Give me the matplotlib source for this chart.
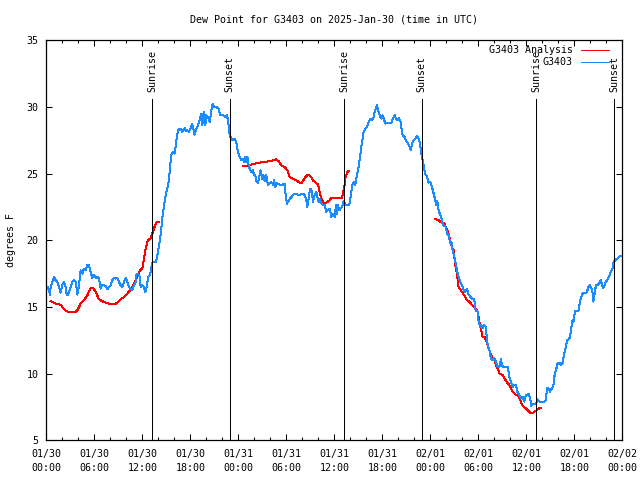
import numpy as np
import matplotlib
matplotlib.use("Agg")
import matplotlib.pyplot as plt

# ---------------- data (hours since 2025-01-30 00:00 UTC) ----------------
obs_hours = [0.21, 0.46, 0.54, 0.75, 0.96, 1.17, 1.38, 1.59, 1.79, 2.0, 2.21, 2.42, 2.54, 2.71, 2.96,
             3.25, 3.46, 3.67, 3.79, 3.88, 4.09, 4.29, 4.5, 4.71, 4.92, 5.13, 5.33, 5.54, 5.75, 5.96,
             6.17, 6.38, 6.58, 6.79, 7.0, 7.21, 7.42, 7.63, 7.83, 8.04, 8.25, 8.46, 8.67, 8.88, 9.09,
             9.29, 9.5, 9.71, 9.92, 10.13, 10.33, 10.54, 10.75, 10.96, 11.17, 11.29, 11.5, 11.67, 11.79,
             12.0, 12.21, 12.34, 12.46, 12.63, 12.75, 12.96, 13.13, 13.29, 13.46, 13.71, 13.88, 14.09,
             14.29, 14.5, 14.71, 14.92, 15.13, 15.33, 15.46, 15.67, 15.88, 16.04, 16.21, 16.38, 16.58,
             16.79, 16.96, 17.13, 17.29, 17.46, 17.63, 17.83, 18.04, 18.21,
             18.54, 18.75, 18.96, 19.17, 19.38, 19.5, 19.67, 19.88, 20.0, 20.21, 20.42, 20.63, 20.79,
             20.96, 21.25, 21.54, 21.71, 22.08, 22.38, 22.58, 22.71, 22.83, 22.92, 23.13, 23.33, 23.54,
             23.75, 23.96, 24.17, 24.38, 24.58, 24.71, 24.88, 25.0, 25.13, 25.29, 25.42, 25.63, 25.83,
             25.96, 26.13, 26.29, 26.46, 26.67, 26.79, 26.96, 27.13, 27.29, 27.5, 27.71, 27.92, 28.13,
             28.33, 28.46, 28.63, 28.79, 28.96, 29.17, 29.38, 29.58, 29.79, 29.92, 30.08, 30.29, 30.46,
             30.63, 30.83, 31.04, 31.25, 31.46, 31.67, 31.88, 32.08, 32.29, 32.5, 32.63, 32.79, 32.92,
             33.04, 33.21, 33.33, 33.54, 33.75, 33.88, 34.04, 34.17, 34.38, 34.58, 34.79, 35.0, 35.21,
             35.42, 35.63, 35.83,
             36.04, 36.21, 36.33, 36.46, 36.63, 36.75, 36.96, 37.17, 37.38, 37.58, 37.88, 38.0, 38.13,
             38.29, 38.46, 38.63, 38.71, 38.88, 39.04, 39.25, 39.38, 39.54, 39.67, 39.88, 40.08, 40.29,
             40.5, 40.71, 40.92, 41.04, 41.21, 41.33, 41.46, 41.63, 41.75, 41.88, 42.04, 42.17, 42.38,
             42.58, 42.79, 43.13, 43.33, 43.54, 43.71, 43.88, 44.04, 44.25, 44.38, 44.54, 44.79, 44.96,
             45.21, 45.42, 45.58, 45.71, 45.92, 46.13, 46.33, 46.54, 46.71, 46.88, 47.04, 47.21, 47.38,
             47.58, 47.79, 48.0, 48.21, 48.42, 48.63, 48.75, 48.88, 49.04, 49.25, 49.46, 49.58, 49.79,
             49.96, 50.08, 50.29, 50.5, 50.63, 50.79, 50.92, 51.04, 51.21, 51.38, 51.54, 51.75, 51.96,
             52.17, 52.38, 52.58, 52.79, 53.0, 53.21, 53.42, 53.54, 53.63,
             53.71, 53.92, 54.04, 54.21, 54.38, 54.54, 54.75, 54.96, 55.08, 55.21, 55.38, 55.58, 55.79,
             56.0, 56.21, 56.42, 56.63, 56.83, 56.96, 57.13, 57.38, 57.67, 57.88, 58.08, 58.29, 58.5,
             58.71, 58.92, 59.13, 59.33, 59.54, 59.75, 59.88, 60.04, 60.29, 60.46, 60.63, 60.79, 61.0,
             61.21, 61.42, 61.63, 61.83, 62.04, 62.25, 62.46, 62.58, 62.75, 62.96, 63.21, 63.38, 63.54,
             63.71, 63.92, 64.13, 64.33, 64.54, 64.75, 64.96, 65.08, 65.29, 65.46, 65.67, 65.79, 65.92,
             66.08, 66.29, 66.54, 66.71, 66.96, 67.13, 67.38, 67.54, 67.79, 67.96, 68.13, 68.29, 68.38,
             68.54, 68.71, 68.92, 69.13, 69.33, 69.46, 69.63, 69.79, 69.96, 70.17, 70.38, 70.58, 70.79,
             70.92, 71.13, 71.42, 71.63, 71.83, 72.0]
obs_dewpt = [16.5, 15.92, 16.5, 16.88, 17.25, 17.0, 16.88, 16.5, 16.08, 16.63, 16.88, 16.5, 15.93, 15.93, 16.38,
             16.88, 17.05, 16.88, 16.38, 15.93, 16.63, 17.75, 17.5, 17.88, 17.75, 18.13, 18.13, 17.63, 17.18, 17.38,
             17.18, 17.25, 17.13, 16.38, 16.63, 16.63, 16.58, 16.33, 16.5, 16.63, 17.0, 17.18, 17.13, 17.18, 16.88,
             16.63, 16.5, 16.88, 17.18, 16.88, 16.5, 16.33, 16.3, 16.63, 16.88, 17.5, 17.5, 17.25, 16.5,
             16.63, 16.5, 16.13, 16.25, 16.88, 17.25, 17.38, 18.0, 18.38, 18.38, 18.38, 18.88, 19.63,
             20.38, 21.63, 22.63, 23.38, 23.88, 24.5, 25.5, 26.5, 26.63, 26.5, 27.25, 28.0, 28.38,
             28.38, 28.13, 28.25, 28.43, 28.18, 28.25, 28.13, 28.38, 28.75,
             27.93, 28.38, 28.63, 29.0, 29.5, 28.63, 29.63, 28.63, 29.38, 29.25, 28.88, 29.75, 30.25,
             30.0, 30.0, 29.88, 29.38, 29.38, 29.25, 29.38, 29.0, 28.38, 27.88, 27.63, 27.5, 27.63,
             27.38, 26.63, 26.25, 26.0, 26.13, 25.88, 26.25, 25.88, 26.25, 25.63, 25.38, 25.13, 25.25,
             24.88, 24.88, 24.38, 24.33, 24.88, 25.25, 24.63, 24.88, 24.43, 24.88, 24.13, 24.25, 24.38,
             24.18, 24.5, 24.0, 24.33, 24.25, 24.18, 24.18, 24.18, 24.25, 23.38, 22.75, 22.93, 23.13,
             23.25, 23.38, 23.5, 23.5, 23.38, 23.43, 23.45, 23.5, 23.38, 23.0, 22.5, 23.13, 23.63,
             23.88, 23.63, 22.88, 23.38, 23.63, 23.25, 22.88, 23.13, 22.75, 22.63, 22.68, 22.13, 22.25,
             22.38, 21.75, 22.0,
             21.75, 22.63, 22.0, 22.63, 22.25, 22.38, 22.5, 22.93, 22.68, 22.68, 22.68, 23.13, 23.63,
             24.25, 24.38, 24.13, 24.5, 25.0, 25.5, 26.38, 27.0, 27.63, 28.13, 28.38, 28.5, 28.88,
             29.13, 29.0, 29.25, 29.63, 29.88, 30.13, 29.75, 29.5, 29.25, 29.13, 29.38, 29.13, 28.75,
             28.83, 28.83, 28.83, 29.13, 29.38, 29.13, 29.0, 29.18, 29.0, 28.5, 27.88, 27.75, 27.5,
             27.25, 27.0, 26.75, 27.25, 27.5, 27.63, 27.83, 27.63, 27.25, 26.5, 26.0, 25.5, 24.93,
             24.83, 24.33, 24.38, 24.0, 23.5, 23.0, 22.63, 22.93, 22.25, 21.88, 21.5, 21.13, 21.08,
             21.0, 20.5, 20.38, 19.75, 19.88, 19.25, 19.0, 18.63, 18.13, 17.63, 17.25, 16.88, 16.63,
             16.25, 16.13, 16.38, 15.93, 15.75, 15.63, 15.58, 15.38, 14.88,
             14.72, 14.65, 13.9, 13.52, 13.65, 13.4, 13.65, 13.47, 12.52, 12.02, 11.77, 11.15, 11.02,
             11.15, 10.9, 10.52, 10.52, 11.07, 10.65, 10.47, 10.47, 10.52, 9.77, 9.4, 9.02, 9.15,
             9.15, 8.57, 8.4, 8.15, 8.27, 7.9, 8.27, 8.4, 8.47, 8.22, 7.57, 7.72, 7.72,
             7.77, 8.07, 7.9, 7.9, 7.9, 7.9, 8.02, 8.9, 8.9, 8.65, 8.9, 9.07, 9.9,
             10.27, 10.77, 10.82, 10.65, 10.82, 11.52, 12.02, 12.52, 12.57, 12.72, 13.65, 14.02, 13.9,
             14.72, 14.72, 14.72, 15.4, 15.9, 16.07, 16.07, 16.07, 16.52, 16.65, 16.4, 16.02, 15.4,
             16.02, 16.65, 16.65, 16.77, 17.02, 16.65, 16.4, 16.65, 16.9, 17.07, 17.32, 17.65, 17.9,
             18.4, 18.52, 18.65, 18.77, 18.82, 18.85]

ana_hours = [0.54, 0.96, 1.38, 1.79, 2.0, 2.42, 2.83, 3.67, 3.88, 4.29, 4.71, 5.13, 5.54, 5.88, 6.17,
             6.58, 7.0, 7.42, 7.83, 8.67, 8.96, 9.29, 9.71, 10.13, 10.46, 10.75, 11.04, 11.38, 11.71,
             12.0, 12.21, 12.42, 12.63, 12.83, 13.04, 13.25, 13.46, 13.67, 13.88, 14.04,
             np.nan,
             24.58, 25.21, 25.63, 26.04, 26.67, 27.29, 27.92, 28.33, 28.75, 29.04, 29.38, 29.79, 30.13,
             30.42, 30.83, 31.25, 31.67, 31.96, 32.21, 32.5, 32.79, 33.13, 33.33, 33.63, 33.96, 34.17,
             34.38, 34.58, 34.79, 35.13, 35.42, 35.63, 36.96, 37.08, 37.29, 37.38, 37.54, 37.71, 37.88,
             np.nan,
             48.63, 49.04, 49.46, 49.79, 49.96, 50.21, 50.38, 50.54, 50.71, 50.92, 51.13, 51.33, 51.54,
             51.75, 51.96, 52.17, 52.38, 52.58, 52.79, 53.0, 53.21, 53.42, 53.63, 53.92, 54.13, 54.33,
             54.54, 54.75, 54.96, 55.17, 55.38, 55.58, 55.79, 56.0, 56.21, 56.42, 56.63, 56.83, 57.04,
             57.25, 57.46, 57.67, 57.88, 58.08, 58.29, 58.5, 58.71, 58.92, 59.13, 59.33, 59.54, 59.75,
             59.96, 60.17, 60.38, 60.58, 60.79, 61.0, 61.21, 61.42, 61.63, 61.83]
ana_dewpt = [15.43, 15.33, 15.2, 15.18, 15.0, 14.7, 14.63, 14.63, 14.75, 15.25, 15.5, 15.88, 16.38, 16.43, 16.13,
             15.58, 15.43, 15.33, 15.25, 15.25, 15.38, 15.58, 15.75, 16.0, 16.25, 16.5, 16.88, 17.25, 17.75,
             17.88, 18.63, 19.38, 19.88, 20.08, 20.13, 20.5, 20.88, 21.25, 21.38, 21.38,
             np.nan,
             25.55, 25.58, 25.68, 25.75, 25.83, 25.88, 25.93, 26.0, 26.08, 25.93, 25.63, 25.5, 25.25,
             24.75, 24.63, 24.5, 24.33, 24.33, 24.58, 24.83, 24.93, 24.75, 24.5, 24.33, 24.18, 23.63,
             23.13, 22.88, 22.7, 22.88, 23.0, 23.18, 23.2, 23.5, 24.13, 24.63, 25.0, 25.2, 25.2,
             np.nan,
             21.58, 21.5, 21.3, 21.25, 20.93, 20.63, 20.25, 19.88, 19.43, 19.25, 18.08, 17.5, 16.43,
             16.33, 16.13, 15.93, 15.75, 15.5, 15.43, 15.33, 15.13, 15.0, 14.88, 14.65, 13.9, 13.4,
             12.77, 12.77, 12.52, 12.15, 11.77, 11.4, 11.15, 11.02, 10.65, 10.4, 10.02, 9.97, 9.9,
             9.65, 9.47, 9.27, 9.15, 8.9, 8.65, 8.52, 8.4, 8.4, 8.15, 7.9, 7.57, 7.47,
             7.4, 7.27, 7.15, 7.02, 7.02, 7.15, 7.22, 7.32, 7.4, 7.4]

sunrise_hours = [13.25, 37.25, 61.25]
sunset_hours = [22.9, 46.9, 71.0]

xtick_hours = list(range(0, 73, 6))
xtick_labels = ["01/30\n00:00", "01/30\n06:00", "01/30\n12:00", "01/30\n18:00",
                "01/31\n00:00", "01/31\n06:00", "01/31\n12:00", "01/31\n18:00",
                "02/01\n00:00", "02/01\n06:00", "02/01\n12:00", "02/01\n18:00",
                "02/02\n00:00"]
ytick_values = [5, 10, 15, 20, 25, 30, 35]

title = "Dew Point for G3403 on 2025-Jan-30 (time in UTC)"
series_names = ["G3403 Analysis", "G3403"]
RED = "#ff0000"
BLUE = "#1a8cff"

# ---------------- drawing ----------------
plt.rcParams['font.family'] = ['DejaVu Sans Mono']
FS = 7.2
LW = 0.72  # one pixel at 100 dpi

fig = plt.figure(figsize=(6.4, 4.8), dpi=100)
ax = fig.add_axes([46.3 / 640, 39.7 / 480, 576 / 640, 400 / 480])
ax.set_xlim(0, 72)
ax.set_ylim(5, 35)

ax.plot(ana_hours, ana_dewpt, color=RED, lw=LW, zorder=3, antialiased=False)
ax.plot(obs_hours, obs_dewpt, color=BLUE, lw=LW, zorder=3, antialiased=False)

for h in sunrise_hours:
    ax.plot([h, h], [5, 30.6], color="black", lw=LW, zorder=4, antialiased=False)
    ax.text(h, 31.1, "Sunrise", rotation=90, ha="center", va="bottom", fontsize=FS)
for h in sunset_hours:
    ax.plot([h, h], [5, 30.6], color="black", lw=LW, zorder=4, antialiased=False)
    ax.text(h, 31.1, "Sunset", rotation=90, ha="center", va="bottom", fontsize=FS)

ax.set_xticks(xtick_hours)
ax.set_xticklabels(xtick_labels, fontsize=FS, linespacing=1.45)
ax.set_xticks(np.arange(0, 73, 2), minor=True)
ax.set_yticks(ytick_values)
ax.set_yticklabels([str(v) for v in ytick_values], fontsize=FS)
ax.tick_params(which="both", direction="in", top=True, right=True, width=0.75)
ax.tick_params(which="major", length=4.0)
ax.tick_params(which="minor", length=2.3)
ax.tick_params(axis="x", which="major", pad=6.5)
ax.tick_params(axis="y", which="major", pad=5.5)
for s in ax.spines.values():
    s.set_linewidth(0.9)

ax.set_ylabel("degrees F", fontsize=FS, labelpad=8)
fig.text(334.3 / 640, 1 - 20 / 480, title, ha="center", va="center", fontsize=FS)

# legend (top right, gnuplot style)
leg_y = [0.9758, 0.9457]
for name, col, y in zip(series_names, [RED, BLUE], leg_y):
    ax.text(0.9144, y, name, transform=ax.transAxes, ha="right", va="center", fontsize=FS, zorder=5)
    ax.plot([0.9283, 0.9769], [y, y], transform=ax.transAxes, color=col, lw=LW, zorder=5,
            antialiased=False)

fig.savefig("out.png", dpi=100)
